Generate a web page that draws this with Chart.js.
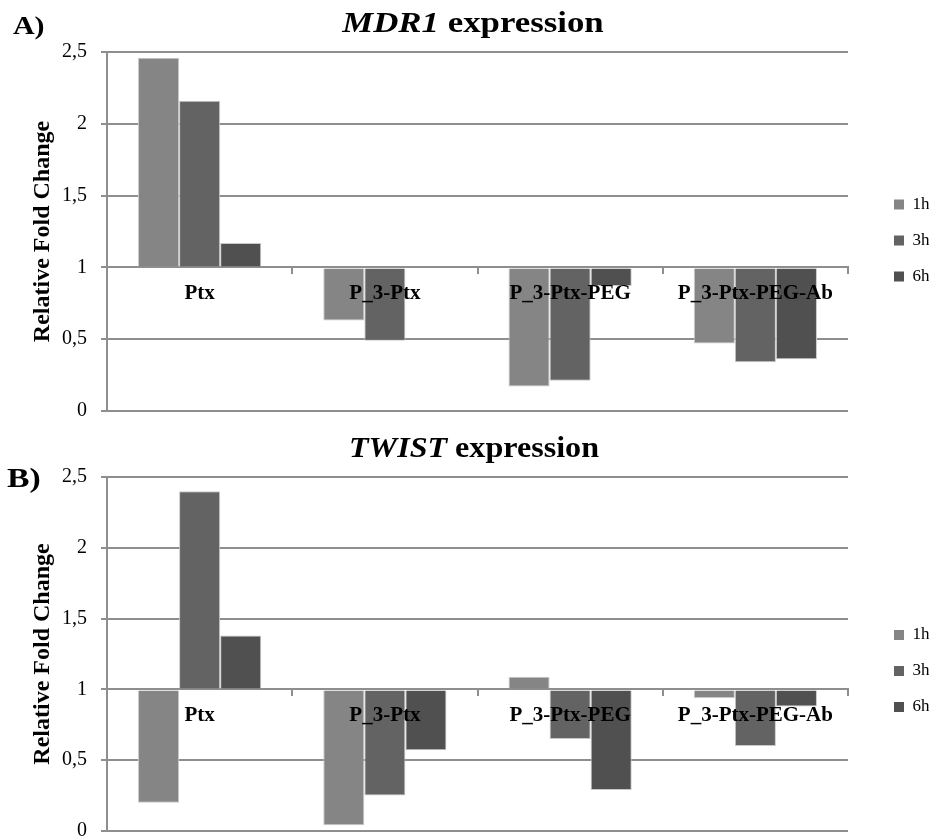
<!DOCTYPE html>
<html>
<head>
<meta charset="utf-8">
<script src="https://cdn.jsdelivr.net/npm/chart.js@4.4.1/dist/chart.umd.min.js"></script>
<style>
  body { margin: 0; background: #fff; }
  .page { position: relative; width: 929px; height: 840px; font-family: "Liberation Serif", "Times New Roman", serif; }
  .panel { position: absolute; left: 0; width: 929px; height: 420px; }
  .title { position: absolute; width: 400px; text-align: center; font-size: 30px; font-weight: bold; line-height: 30px; white-space: nowrap; transform-origin: center; }
  .tag { position: absolute; font-weight: bold; white-space: nowrap; transform-origin: left; }
</style>
</head>
<body>
<div class="page">
  <div class="panel" style="top:0"><canvas id="chartA"></canvas></div>
  <div class="panel" style="top:420px"><canvas id="chartB"></canvas></div>
  <div class="tag" style="left:13px; top:12.5px; font-size:26px; line-height:26px; transform:scaleX(1.15);">A)</div>
  <div class="tag" style="left:7px; top:465px; font-size:27px; line-height:27px; transform:scaleX(1.25);">B)</div>
  <div class="title" style="left:272.5px; top:6.5px; transform:scaleX(1.16);"><i>MDR1</i> expression</div>
  <div class="title" style="left:273.5px; top:431.5px; transform:scaleX(1.07);"><i>TWIST</i> expression</div>
</div>
<script>
const categories = ["Ptx", "P_3-Ptx", "P_3-Ptx-PEG", "P_3-Ptx-PEG-Ab"];
const seriesLabels = ["1h", "3h", "6h"];
const seriesColors = ["#858585", "#636363", "#505050"];

const mdr1_1h = [2.46, 0.63, 0.17, 0.47];
const mdr1_3h = [2.16, 0.49, 0.21, 0.34];
const mdr1_6h = [1.17, 1.01, 0.87, 0.36];

const twist_1h = [0.20, 0.04, 1.09, 0.94];
const twist_3h = [2.40, 0.25, 0.65, 0.60];
const twist_6h = [1.38, 0.57, 0.29, 0.88];

const yTickLabels = ["0", "0,5", "1", "1,5", "2", "2,5"];

const gridGray = "#8e8e8e";
const serif = "'Liberation Serif', 'Times New Roman', serif";

// moves the built-in legend after layout so it sits where the original has it
const legendShift = {
  id: "legendShift",
  afterLayout: (chart, args, opts) => {
    const l = chart.legend;
    if (!l) return;
    l.left += opts.dx;
    l.right += opts.dx;
    l.top += opts.dy;
    l.bottom += opts.dy;
  },
};

const makeChart = (id, series, topPad, dy) => {
  new Chart(document.getElementById(id), {
    type: "bar",
    data: {
      labels: categories,
      datasets: series.map((values, i) => ({
        label: seriesLabels[i],
        data: values,
        base: 1,
        backgroundColor: seriesColors[i],
        borderColor: "#c8c8c8",
        borderWidth: 1,
        categoryPercentage: 0.665,
        barPercentage: 1.0,
      })),
    },
    plugins: [legendShift],
    options: {
      responsive: true,
      maintainAspectRatio: false,
      animation: false,
      layout: {
        padding: { top: topPad, bottom: 9, left: 0, right: 16.5 },
      },
      scales: {
        x: {
          position: { y: 1 },
          offset: true,
          afterFit: (scale) => {
            scale.height = 0;
          },
          grid: {
            display: true,
            offset: true,
            drawOnChartArea: false,
            drawTicks: true,
            tickLength: 6,
            color: gridGray,
            lineWidth: 2,
          },
          border: { color: gridGray, width: 2 },
          ticks: {
            z: 1,
            color: "#000",
            padding: 8,
            maxRotation: 0,
            font: { family: serif, size: 21, weight: "bold" },
          },
        },
        y: {
          min: 0,
          max: 2.5,
          afterFit: (scale) => {
            scale.width = 107;
            scale.paddingTop = 0;
            scale.paddingBottom = 0;
          },
          grid: {
            color: gridGray,
            lineWidth: 2,
            tickLength: 6,
          },
          border: { color: gridGray, width: 2 },
          ticks: {
            stepSize: 0.5,
            color: "#000",
            padding: 14,
            font: { family: serif, size: 20 },
            callback: (value, index) => yTickLabels[index],
          },
          title: {
            display: true,
            text: "Relative Fold Change",
            color: "#000",
            padding: { top: 28, bottom: 0 },
            font: { family: serif, size: 24, weight: "bold" },
          },
        },
      },
      plugins: {
        legendShift: { dx: 27, dy: dy },
        legend: {
          position: "right",
          labels: {
            color: "#000",
            boxWidth: 10,
            boxHeight: 10,
            padding: 19,
            font: { family: serif, size: 17 },
            generateLabels: (chart) =>
              Chart.defaults.plugins.legend.labels
                .generateLabels(chart)
                .map((item) => ({ ...item, lineWidth: 0 })),
          },
        },
        tooltip: { enabled: false },
      },
    },
  });
};

makeChart("chartA", [mdr1_1h, mdr1_3h, mdr1_6h], 52, 9);
makeChart("chartB", [twist_1h, twist_3h, twist_6h], 57, 17);
</script>
</body>
</html>
